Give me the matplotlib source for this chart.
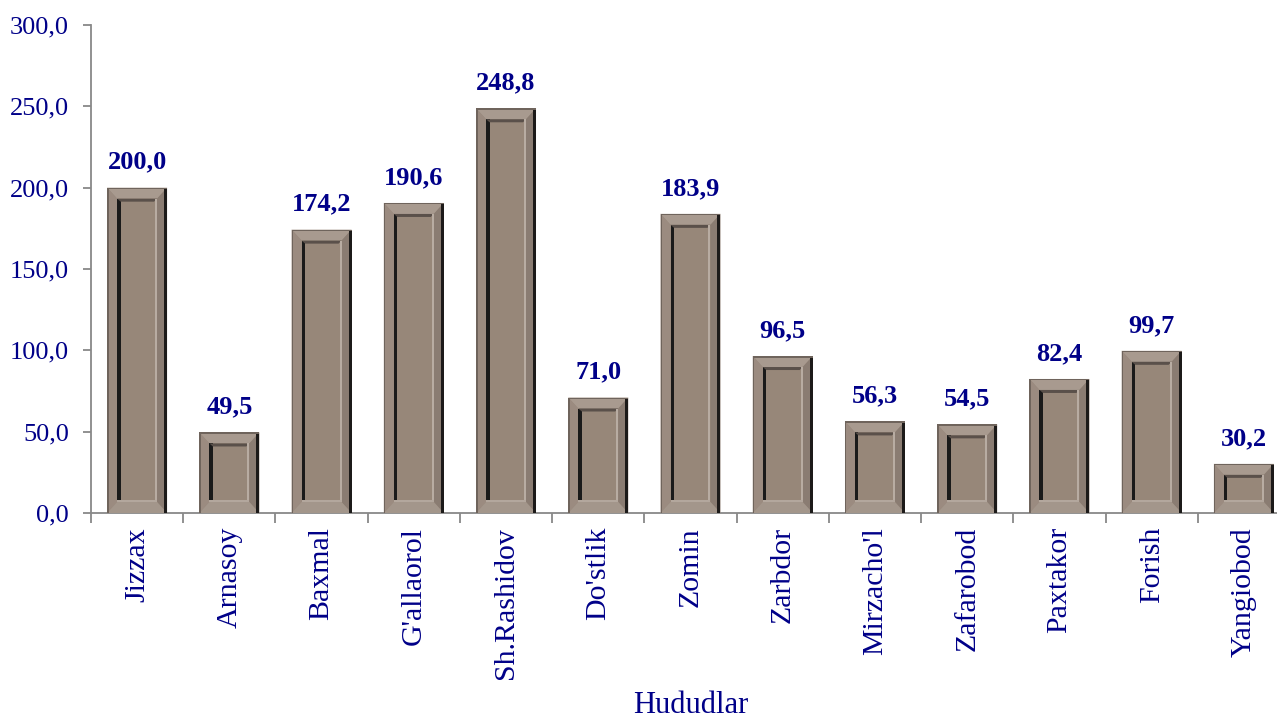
import matplotlib
matplotlib.use("Agg")
import matplotlib.pyplot as plt
from matplotlib.patches import Polygon, Rectangle
import numpy as np

categories = ["Jizzax", "Arnasoy", "Baxmal", "G'allaorol", "Sh.Rashidov", "Do'stlik",
              "Zomin", "Zarbdor", "Mirzacho'l", "Zafarobod", "Paxtakor", "Forish", "Yangiobod"]
values = [200.0, 49.5, 174.2, 190.6, 248.8, 71.0, 183.9, 96.5, 56.3, 54.5, 82.4, 99.7, 30.2]
yticks = [0, 50, 100, 150, 200, 250, 300]

navy = "#000088"
plt.rcParams['font.family'] = ['Liberation Serif', 'DejaVu Serif']

fig = plt.figure(figsize=(12.77, 7.2), dpi=100)
ax = fig.add_axes([91/1277, 1-513/720, 1199/1277, 488/720])

x = np.arange(len(categories))
bars = ax.bar(x, values, width=0.65, color="#978779", edgecolor="none", zorder=2)

ax.set_xlim(-0.5, len(categories) - 0.5)
ax.set_ylim(0, 300)

# bevel decoration (pixel-based insets)
dxp = 1 / 92.2
dyp = 300 / 488
ix, iy = 10 * dxp, 11 * dyp
for b in bars:
    x0, w, h = b.get_x(), b.get_width(), b.get_height()
    x1, y0, y1 = x0 + w, 0, h
    a0, a1, b0, b1 = x0 + ix, x1 - ix, y0 + iy, y1 - iy
    # frame faces
    ax.add_patch(Polygon([(x0, y1), (x1, y1), (a1, b1), (a0, b1)], closed=True,
                         fc="#a89a8f", ec="none", zorder=3))
    ax.add_patch(Polygon([(x0, y0), (x0, y1), (a0, b1), (a0, b0)], closed=True,
                         fc="#9b8b80", ec="none", zorder=3))
    ax.add_patch(Polygon([(x1, y0), (x1, y1), (a1, b1), (a1, b0)], closed=True,
                         fc="#8a7c72", ec="none", zorder=3))
    ax.add_patch(Polygon([(x0, y0), (x1, y0), (a1, b0), (a0, b0)], closed=True,
                         fc="#a3968b", ec="none", zorder=3))
    # outer dark edges
    ax.add_patch(Rectangle((x1 - 3 * dxp, y0), 3 * dxp, h, fc="#1c1a19", ec="none", zorder=4))
    ax.add_patch(Rectangle((x0, y0), 1.5 * dxp, h, fc="#6f645c", ec="none", zorder=4))
    ax.add_patch(Rectangle((x0, y1 - 1.5 * dyp), w, 1.5 * dyp, fc="#6f645c", ec="none", zorder=4))
    # inner panel
    ax.add_patch(Rectangle((a0, b0), a1 - a0, b1 - b0, fc="#978779", ec="none", zorder=4))
    ax.add_patch(Rectangle((a0, b0), 3.5 * dxp, b1 - b0, fc="#1a1a1a", ec="none", zorder=5))
    ax.add_patch(Polygon([(a0, b1), (a1, b1), (a1 - 3 * dxp, b1 - 3 * dyp), (a0 + 3.5 * dxp, b1 - 3 * dyp)],
                         closed=True, fc="#5a504a", ec="none", zorder=5))
    ax.add_patch(Rectangle((a1 - 2 * dxp, b0), 2 * dxp, b1 - b0, fc="#b8aca2", ec="none", zorder=5))
    ax.add_patch(Rectangle((a0, b0), a1 - a0, 2 * dyp, fc="#b3a79d", ec="none", zorder=5))

for xi, v in zip(x, values):
    ax.annotate(f"{v:.1f}".replace(".", ","), (xi, v), xytext=(0, 10), textcoords="offset points",
                ha="center", va="bottom", fontsize=19, fontweight="bold", color=navy, zorder=6)

for s in ["top", "right"]:
    ax.spines[s].set_visible(False)
for s in ["left", "bottom"]:
    ax.spines[s].set_color("#888888")
    ax.spines[s].set_linewidth(1.3)

ax.set_yticks(yticks)
ax.set_yticklabels([f"{t:.1f}".replace(".", ",") for t in yticks])
ax.tick_params(axis="y", direction="out", length=6, width=1.3, color="#888888",
               labelsize=19, labelcolor=navy, pad=10)
ax.set_xticks(x)
ax.set_xticklabels(categories, rotation=90)
ax.tick_params(axis="x", which="major", length=0, labelsize=21.5, labelcolor=navy, pad=10)
ax.set_xticks(np.arange(len(categories) + 1) - 0.5, minor=True)
ax.tick_params(axis="x", which="minor", direction="out", length=7, width=1.3, color="#888888")
ax.set_xlabel("Hududlar", fontsize=22, color=navy, labelpad=9)

fig.savefig("out.png", dpi=100)
